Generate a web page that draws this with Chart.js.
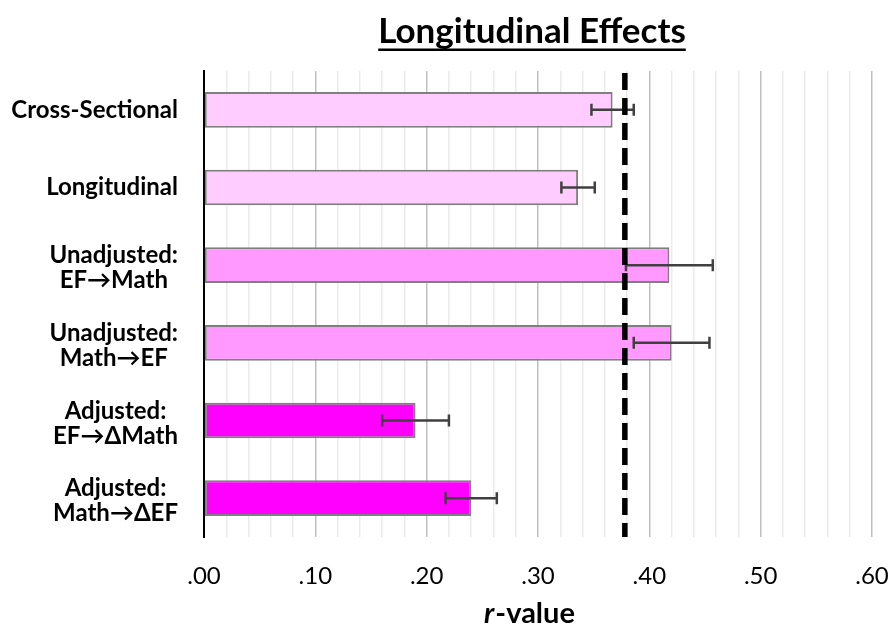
<!DOCTYPE html>
<html>
<head>
<meta charset="utf-8">
<script src="https://cdn.jsdelivr.net/npm/chart.js@4.4.0/dist/chart.umd.min.js"></script>
<style>
  html, body { margin: 0; padding: 0; background: #fff; }
  #wrap { width: 890px; height: 630px; }
</style>
</head>
<body>
<div id="wrap"><canvas id="myChart" width="890" height="630"></canvas></div>
<script>
// values
const categories = [
  ["Cross-Sectional"],
  ["Longitudinal"],
  ["Unadjusted:", "EF\u2192Math"],
  ["Unadjusted:", "Math\u2192EF"],
  ["Adjusted:", "EF\u2192\u0394Math"],
  ["Adjusted:", "Math\u2192\u0394EF"],
];
const rValues = [0.367, 0.336, 0.418, 0.42, 0.19, 0.24];
const rErrors = [0.019, 0.015, 0.039, 0.034, 0.03, 0.023];
const referenceR = 0.378;
const xTickLabels = [".00", ".10", ".20", ".30", ".40", ".50", ".60"];

const chartTitle = "Longitudinal Effects";
const barColors = ["#FFCCFF", "#FFCCFF", "#FF99FF", "#FF99FF", "#FF00FF", "#FF00FF"];
const FONT = "Lato, 'Open Sans', sans-serif";

const extrasPlugin = {
  id: "extras",
  afterDatasetsDraw(chart) {
    const ctx = chart.ctx;
    const x = chart.scales.x;
    const y = chart.scales.y;
    const area = chart.chartArea;

    // error bars
    ctx.save();
    ctx.strokeStyle = "#404040";
    ctx.lineWidth = 2.5;
    rValues.forEach((v, i) => {
      const cy = y.getPixelForValue(i);
      const x1 = x.getPixelForValue(v - rErrors[i]);
      const x2 = x.getPixelForValue(v + rErrors[i]);
      ctx.beginPath();
      ctx.moveTo(x1, cy);
      ctx.lineTo(x2, cy);
      ctx.moveTo(x1, cy - 6);
      ctx.lineTo(x1, cy + 6);
      ctx.moveTo(x2, cy - 6);
      ctx.lineTo(x2, cy + 6);
      ctx.stroke();
    });
    ctx.restore();

    // dashed reference line
    ctx.save();
    const rx = x.getPixelForValue(referenceR);
    ctx.strokeStyle = "#000";
    ctx.lineWidth = 5.5;
    ctx.setLineDash([17, 8]);
    ctx.beginPath();
    ctx.moveTo(rx, area.top + 2);
    ctx.lineTo(rx, area.bottom);
    ctx.stroke();
    ctx.restore();
  },
  afterDraw(chart) {
    const ctx = chart.ctx;
    const y = chart.scales.y;
    const area = chart.chartArea;

    // category labels, lines centred inside a right aligned block
    ctx.save();
    ctx.fillStyle = "#000";
    ctx.font = "bold 24px " + FONT;
    ctx.textBaseline = "middle";
    ctx.textAlign = "center";
    const right = 178;
    categories.forEach((lines, i) => {
      const cy = y.getPixelForValue(i);
      const w = Math.max(...lines.map((l) => ctx.measureText(l).width));
      const cx = right - w / 2;
      lines.forEach((l, j) => {
        const off = lines.length > 1 ? (j - (lines.length - 1) / 2) * 25 + 3 : 0;
        ctx.fillText(l, cx, cy + off);
      });
    });
    ctx.restore();

    // title with underline
    ctx.save();
    const mid = (area.left + area.right) / 2 - 6;
    ctx.font = "bold 35px " + FONT;
    ctx.fillStyle = "#000";
    ctx.textAlign = "center";
    ctx.textBaseline = "alphabetic";
    ctx.fillText(chartTitle, mid, 43);
    const tw = ctx.measureText(chartTitle).width;
    ctx.fillRect(mid - tw / 2, 48.5, tw, 2.5);
    ctx.restore();

    // axis title: italic r + "-value"
    ctx.save();
    ctx.fillStyle = "#000";
    ctx.textBaseline = "middle";
    ctx.textAlign = "left";
    const rFont = "italic bold 29px " + FONT;
    const vFont = "bold 29px " + FONT;
    ctx.font = rFont;
    const w1 = ctx.measureText("r").width;
    ctx.font = vFont;
    const w2 = ctx.measureText("-value").width;
    const start = (area.left + area.right) / 2 - 9 - (w1 + w2) / 2;
    ctx.font = rFont;
    ctx.fillText("r", start, 614);
    ctx.font = vFont;
    ctx.fillText("-value", start + w1 + 1, 614);
    ctx.restore();
  },
};

function initChart() {
  const ctx = document.getElementById("myChart").getContext("2d");

  new Chart(ctx, {
    type: "bar",
    data: {
      labels: categories,
      datasets: [
        {
          data: rValues,
          backgroundColor: barColors,
          borderColor: "#7F7F7F",
          borderWidth: 2,
          borderSkipped: false,
          categoryPercentage: 1,
          barPercentage: 0.46,
        },
      ],
    },
    options: {
      indexAxis: "y",
      responsive: false,
      animation: false,
      layout: { padding: { top: 71, right: 18, bottom: 0, left: 0 } },
      plugins: {
        legend: { display: false },
        title: { display: false },
        tooltip: { enabled: false },
      },
      scales: {
        x: {
          min: 0,
          max: 0.6,
          afterFit(scale) {
            scale.height = 93;
            scale.paddingLeft = 0;
            scale.paddingRight = 0;
          },
          border: { display: false },
          grid: {
            drawTicks: false,
            lineWidth: 1.5,
            color(c) {
              const k = Math.round(c.tick.value * 100);
              if (k === 0) return "rgba(0,0,0,0)";
              return k % 10 === 0 ? "#BFBFBF" : "#EBEBEB";
            },
          },
          ticks: {
            stepSize: 0.02,
            autoSkip: false,
            maxRotation: 0,
            padding: 25,
            color: "#000",
            font: { family: FONT, size: 24 },
            callback(v) {
              const k = Math.round(v * 100);
              return k % 10 === 0 ? xTickLabels[k / 10] : "";
            },
          },
        },
        y: {
          afterFit(scale) {
            scale.width = 204;
          },
          border: { display: true, color: "#000", width: 2 },
          grid: { display: false },
          ticks: { display: false },
        },
      },
    },
    plugins: [extrasPlugin],
  });
}

if (document.readyState === "complete") {
  initChart();
} else {
  window.onload = initChart;
}
</script>
</body>
</html>
